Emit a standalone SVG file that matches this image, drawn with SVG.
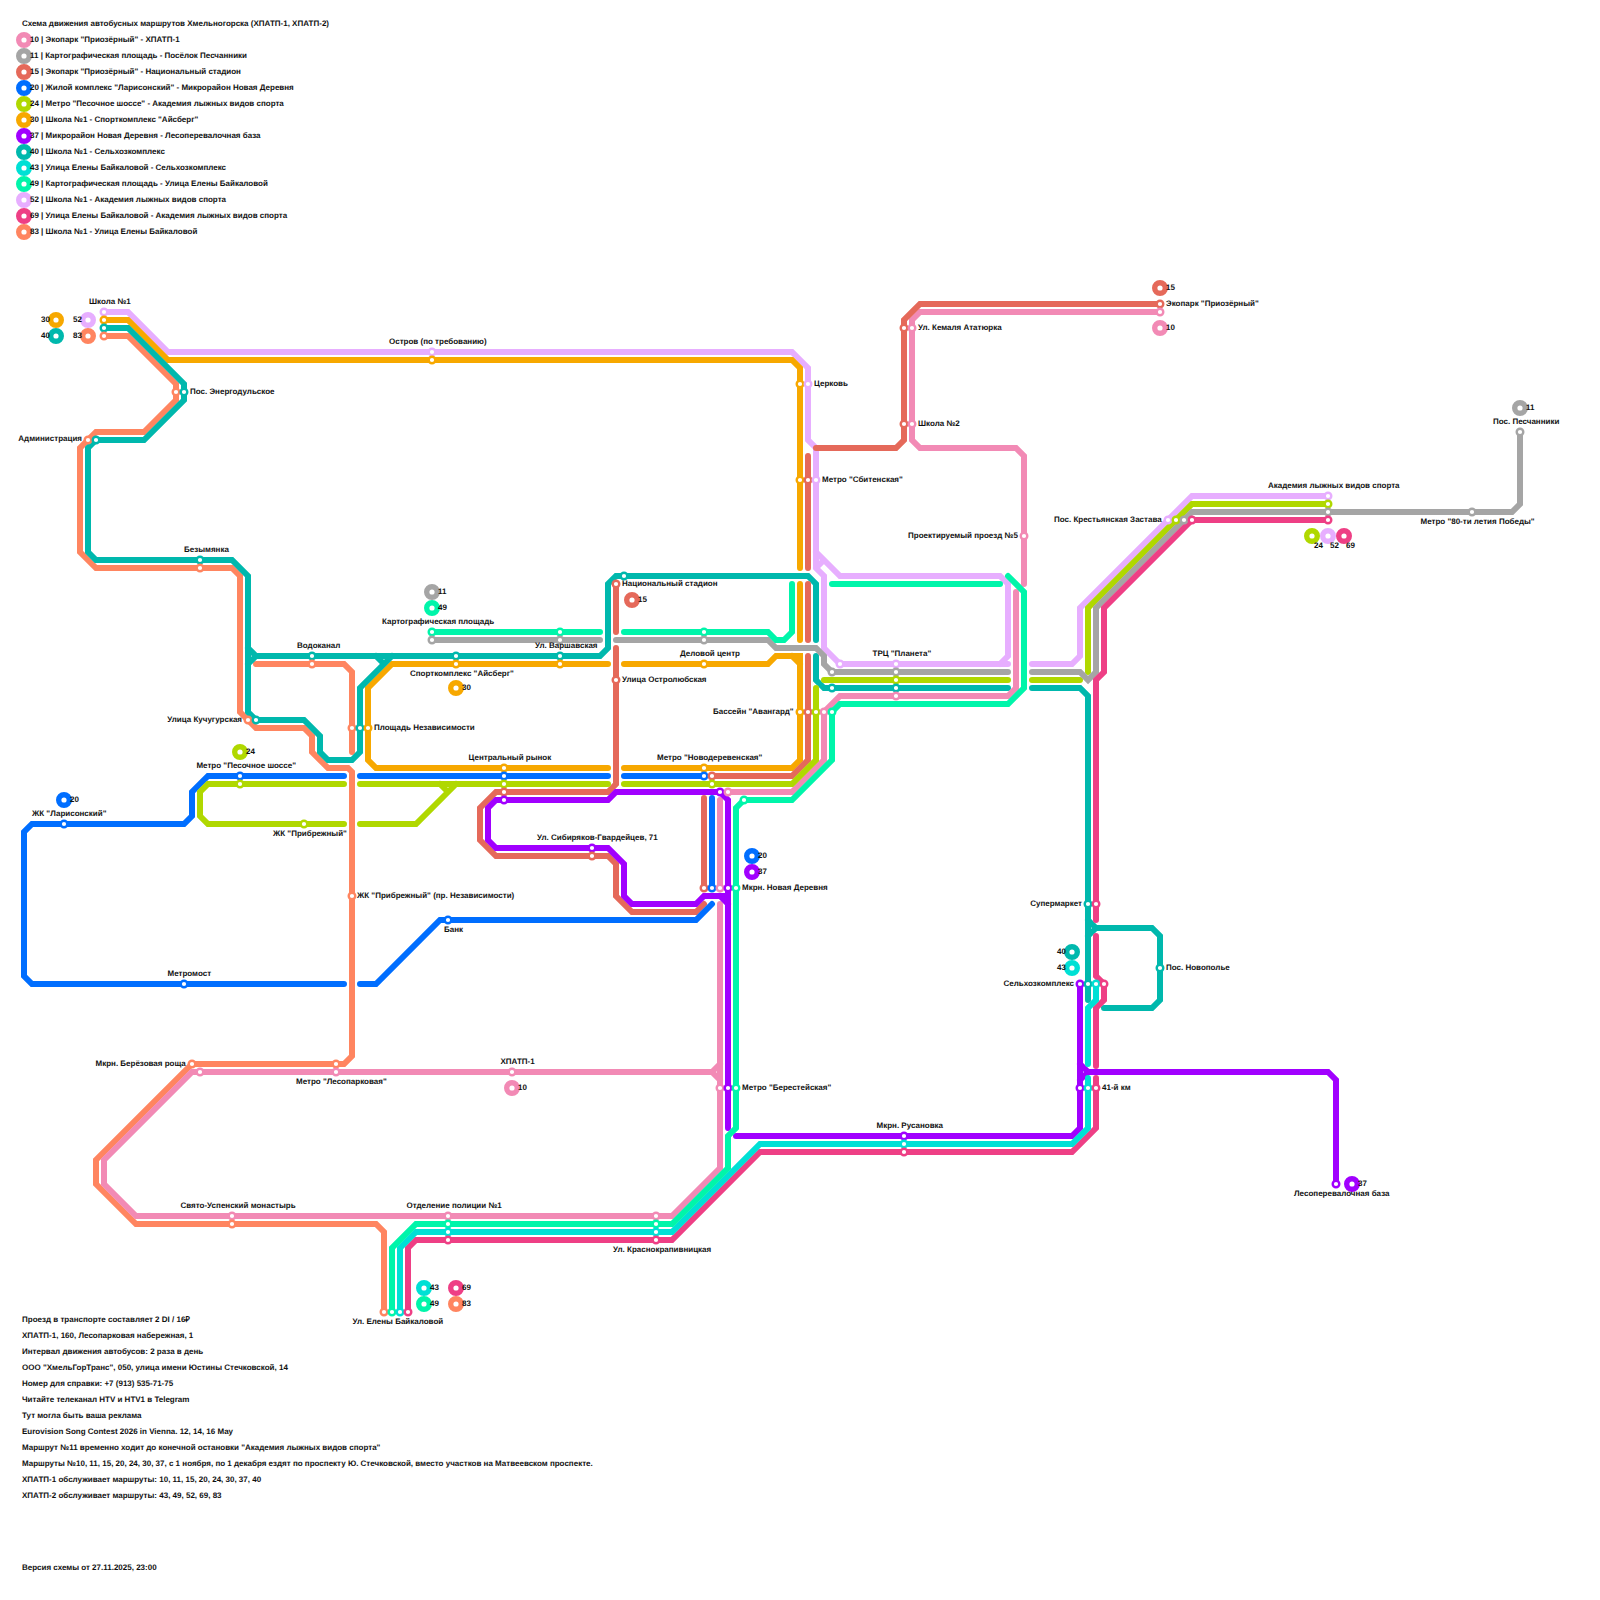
<svg xmlns="http://www.w3.org/2000/svg" width="1600" height="1600" viewBox="0 0 1600 1600">
<style>
text{font-family:"Liberation Sans",Arial,sans-serif;font-size:8px;font-weight:700;fill:#111;text-rendering:geometricPrecision}
.e{text-anchor:end}
.l{fill:none;stroke-width:6;stroke-linecap:round;stroke-linejoin:miter}
.s{r:3.3px;fill:#fff;stroke-width:2.4px}
.m{r:5.3px;fill:#fff;stroke-width:5.4px}
.c10{stroke:#f28ab5}.c11{stroke:#a5a5a5}.c15{stroke:#e5695a}.c20{stroke:#006eff}.c24{stroke:#b0d800}.c30{stroke:#f7a800}.c37{stroke:#a100ff}.c40{stroke:#00b8ad}.c43{stroke:#00e0d5}.c49{stroke:#00f5aa}.c52{stroke:#e7aeff}.c69{stroke:#ee3f85}.c83{stroke:#ff8560}
</style>
<g id="title"><text x="22" y="26">Схема движения автобусных маршрутов Хмельногорска (ХПАТП-1, ХПАТП-2)</text></g>
<g id="legend">
<g id="legend-10"><circle class="m c10" cx="24" cy="40"/><text x="30" y="42">10 | Экопарк "Приозёрный" - ХПАТП-1</text></g>
<g id="legend-11"><circle class="m c11" cx="24" cy="56"/><text x="30" y="58">11 | Картографическая площадь - Посёлок Песчанники</text></g>
<g id="legend-15"><circle class="m c15" cx="24" cy="72"/><text x="30" y="74">15 | Экопарк "Приозёрный" - Национальный стадион</text></g>
<g id="legend-20"><circle class="m c20" cx="24" cy="88"/><text x="30" y="90">20 | Жилой комплекс "Ларисонский" - Микрорайон Новая Деревня</text></g>
<g id="legend-24"><circle class="m c24" cx="24" cy="104"/><text x="30" y="106">24 | Метро "Песочное шоссе" - Академия лыжных видов спорта</text></g>
<g id="legend-30"><circle class="m c30" cx="24" cy="120"/><text x="30" y="122">30 | Школа №1 - Спорткомплекс "Айсберг"</text></g>
<g id="legend-37"><circle class="m c37" cx="24" cy="136"/><text x="30" y="138">37 | Микрорайон Новая Деревня - Лесоперевалочная база</text></g>
<g id="legend-40"><circle class="m c40" cx="24" cy="152"/><text x="30" y="154">40 | Школа №1 - Сельхозкомплекс</text></g>
<g id="legend-43"><circle class="m c43" cx="24" cy="168"/><text x="30" y="170">43 | Улица Елены Байкаловой - Сельхозкомплекс</text></g>
<g id="legend-49"><circle class="m c49" cx="24" cy="184"/><text x="30" y="186">49 | Картографическая площадь - Улица Елены Байкаловой</text></g>
<g id="legend-52"><circle class="m c52" cx="24" cy="200"/><text x="30" y="202">52 | Школа №1 - Академия лыжных видов спорта</text></g>
<g id="legend-69"><circle class="m c69" cx="24" cy="216"/><text x="30" y="218">69 | Улица Елены Байкаловой - Академия лыжных видов спорта</text></g>
<g id="legend-83"><circle class="m c83" cx="24" cy="232"/><text x="30" y="234">83 | Школа №1 - Улица Елены Байкаловой</text></g>
</g>
<g id="connectors">
<path id="r52" class="l c52" d="M104 312H128L168 352H792L808 368V440L816 448V568L824 576V648L840 664H1008M816 552L840 576H1000L1008 584V656L1000 664M816 568L824 560M1032 664H1072L1080 656V608L1192 496H1328"/>
<path id="r30" class="l c30" d="M104 320H128L168 360H792L800 368V568M800 584V640M608 664H392L368 688V760L376 768H608M624 664H768L776 656H800V760L792 768H624M792 656L800 664"/>
<path id="r83" class="l c83" d="M104 336H128L176 384V400L144 432H96L80 448V552L96 568H232L240 576V712L256 728H304L312 736V752L328 768H348L352 772V1056L344 1064H192L96 1160V1184L136 1224H376L384 1232V1312M256 664H344L352 672V752"/>
<path id="r40" class="l c40" d="M104 328H128L184 384V400L144 440H96L88 448V552L96 560H232L248 576V712L256 720H304L320 736V752L328 760H352L360 752V688L392 656M248 648L256 656H600L608 648V584L616 576H808L816 584V640M248 664L256 656M376 656L384 664M816 656V680L824 688H1008M1032 688H1080L1088 696V1000M1088 920L1096 928H1152L1160 936V1000L1152 1008H1104M1088 936L1096 928"/>
<path id="r10" class="l c10" d="M1160 312H920L912 320V440L920 448H1016L1024 456V584M1016 592V688L1008 696H840L824 712V760L792 792H728M720 800V888M720 904V1168L672 1216H136L104 1184V1160L192 1072H712M712 1072L720 1064M712 1072L720 1080"/>
<path id="r15" class="l c15" d="M1160 304H920L904 320V440L896 448H816M808 456V568M808 584V640M808 656V760L792 776H712M616 584V632M616 648V784L608 792H496L480 808V840L496 856H608L616 864V896L632 912H696L704 904M704 798V888"/>
<path id="r20" class="l c20" d="M344 776H208L192 792V816L184 824H32L24 832V976L32 984H344M360 984H376L440 920H696L712 904M360 776H608M624 776H704M712 798V888"/>
<path id="r24" class="l c24" d="M344 784H208L200 792V816L208 824H344M360 784H608M360 824H416L456 784M440 784L448 792M624 784H792L816 760V688M824 680H1008M1032 680H1080M1328 504H1192L1088 608V672"/>
<path id="r11" class="l c11" d="M432 640H600M616 640H768L776 648H816L824 656V664L832 672H1008M1032 672H1080L1088 680L1096 672V608L1192 512H1512L1520 504V432"/>
<path id="r37" class="l c37" d="M488 840L496 848H608L624 864V896L632 904H696L704 896H728M720 896L728 904M488 840V808L496 800H608L616 792H720L728 800V1128M736 1136H1072L1080 1128V984M1080 1064L1088 1072L1080 1080M1088 1072H1328L1336 1080V1184"/>
<path id="r69" class="l c69" d="M408 1312V1248L416 1240H672L760 1152H1072L1096 1128V1078M1096 1066V1008L1104 1000V984L1096 976V936M1096 920V680L1104 672V608L1192 520H1328"/>
<path id="r43" class="l c43" d="M400 1312V1248L416 1232H672L760 1144H1072L1088 1128V1078M1088 1064V1008L1096 1000V984"/>
<path id="r49" class="l c49" d="M392 1312V1248L416 1224H672L728 1168V1136L736 1128V808L744 800H792L832 760V712L840 704H1008L1024 688V592L1008 576M1000 584H832M792 584V632L784 640H776L768 632H624M600 632H432"/>
</g>
<g id="stops">
<g id="st-shkola1"><circle class="s c52" cx="104" cy="312"/><circle class="s c30" cx="104" cy="320"/><circle class="s c40" cx="104" cy="328"/><circle class="s c83" cx="104" cy="336"/><text x="89" y="304">Школа №1</text>
<circle class="m c30" cx="56" cy="320"/><circle class="m c40" cx="56" cy="336"/><circle class="m c52" cx="88" cy="320"/><circle class="m c83" cx="88" cy="336"/>
<text x="41" y="322">30</text><text x="41" y="338">40</text><text x="73" y="322">52</text><text x="73" y="338">83</text></g>
<g id="st-ostrov"><circle class="s c52" cx="432" cy="352"/><circle class="s c30" cx="432" cy="360"/><text x="389" y="344">Остров (по требованию)</text></g>
<g id="st-energo"><circle class="s c83" cx="176" cy="392"/><circle class="s c40" cx="184" cy="392"/><text x="190" y="394">Пос. Энергодульское</text></g>
<g id="st-admin"><circle class="s c83" cx="88" cy="440"/><circle class="s c40" cx="96" cy="440"/><text x="82" y="441" class="e">Администрация</text></g>
<g id="st-bezym"><circle class="s c40" cx="200" cy="560"/><circle class="s c83" cx="200" cy="568"/><text x="184" y="552">Безымянка</text></g>
<g id="st-vodokanal"><circle class="s c40" cx="312" cy="656"/><circle class="s c83" cx="312" cy="664"/><text x="297" y="648">Водоканал</text></g>
<g id="st-karto"><circle class="s c49" cx="432" cy="632"/><circle class="s c11" cx="432" cy="640"/><circle class="m c11" cx="432" cy="592"/><circle class="m c49" cx="432" cy="608"/><text x="438" y="594">11</text><text x="438" y="610">49</text><text x="382" y="624">Картографическая площадь</text></g>
<g id="st-varsh"><circle class="s c49" cx="560" cy="632"/><circle class="s c11" cx="560" cy="640"/><circle class="s c40" cx="560" cy="656"/><circle class="s c30" cx="560" cy="664"/><text x="535" y="648">Ул. Варшавская</text></g>
<g id="st-aisberg"><circle class="s c40" cx="456" cy="656"/><circle class="s c30" cx="456" cy="664"/><circle class="m c30" cx="456" cy="688"/><text x="462" y="690">30</text><text x="410" y="676">Спорткомплекс "Айсберг"</text></g>
<g id="st-kuchug"><circle class="s c83" cx="248" cy="720"/><circle class="s c40" cx="256" cy="720"/><text x="242" y="722" class="e">Улица Кучугурская</text></g>
<g id="st-nezav"><circle class="s c83" cx="352" cy="728"/><circle class="s c40" cx="360" cy="728"/><circle class="s c30" cx="368" cy="728"/><text x="374" y="730">Площадь Независимости</text></g>
<g id="st-pesoch"><circle class="s c20" cx="240" cy="776"/><circle class="s c24" cx="240" cy="784"/><circle class="m c24" cx="240" cy="752"/><text x="246" y="754">24</text><text x="296" y="768" class="e">Метро "Песочное шоссе"</text></g>
<g id="st-central"><circle class="s c30" cx="504" cy="768"/><circle class="s c20" cx="504" cy="776"/><circle class="s c24" cx="504" cy="784"/><circle class="s c15" cx="504" cy="792"/><circle class="s c37" cx="504" cy="800"/><text x="468.500" y="760">Центральный рынок</text></g>
<g id="st-pribr"><circle class="s c24" cx="304" cy="824"/><text x="273" y="836">ЖК "Прибрежный"</text></g>
<g id="st-laris"><circle class="s c20" cx="64" cy="824"/><circle class="m c20" cx="64" cy="800"/><text x="70" y="802">20</text><text x="32" y="816">ЖК "Ларисонский"</text></g>
<g id="st-sibir"><circle class="s c37" cx="592" cy="848"/><circle class="s c15" cx="592" cy="856"/><text x="537" y="840">Ул. Сибиряков-Гвардейцев, 71</text></g>
<g id="st-pribr2"><circle class="s c83" cx="352" cy="896"/><text x="357" y="898">ЖК "Прибрежный" (пр. Независимости)</text></g>
<g id="st-bank"><circle class="s c20" cx="448" cy="920"/><text x="444" y="932">Банк</text></g>
<g id="st-metromost"><circle class="s c20" cx="184" cy="984"/><text x="167.500" y="976">Метромост</text></g>
<g id="st-nacstad"><circle class="s c15" cx="616" cy="584"/><circle class="s c40" cx="624" cy="576"/><circle class="m c15" cx="632" cy="600"/><text x="638" y="602">15</text><text x="622" y="586">Национальный стадион</text></g>
<g id="st-delov"><circle class="s c49" cx="704" cy="632"/><circle class="s c11" cx="704" cy="640"/><circle class="s c30" cx="704" cy="664"/><text x="680" y="656">Деловой центр</text></g>
<g id="st-ostrol"><circle class="s c15" cx="616" cy="680"/><text x="622" y="682">Улица Остролюбская</text></g>
<g id="st-avangard"><circle class="s c30" cx="800" cy="712"/><circle class="s c15" cx="808" cy="712"/><circle class="s c24" cx="816" cy="712"/><circle class="s c10" cx="824" cy="712"/><circle class="s c49" cx="832" cy="712"/><text x="713" y="714">Бассейн "Авангард"</text></g>
<g id="st-novoder"><circle class="s c30" cx="704" cy="768"/><circle class="s c20" cx="704" cy="776"/><circle class="s c15" cx="712" cy="776"/><circle class="s c24" cx="712" cy="784"/><text x="657" y="760">Метро "Новодеревенская"</text></g>
<g id="st-row792"><circle class="s c37" cx="720" cy="792"/><circle class="s c10" cx="728" cy="792"/><circle class="s c49" cx="744" cy="800"/></g>
<g id="st-novder"><circle class="s c15" cx="704" cy="888"/><circle class="s c20" cx="712" cy="888"/><circle class="s c10" cx="720" cy="888"/><circle class="s c37" cx="728" cy="888"/><circle class="s c49" cx="736" cy="888"/><circle class="m c20" cx="752" cy="856"/><circle class="m c37" cx="752" cy="872"/><text x="758" y="858">20</text><text x="758" y="874">37</text><text x="742" y="890">Мкрн. Новая Деревня</text></g>
<g id="st-berest"><circle class="s c10" cx="720" cy="1088"/><circle class="s c37" cx="728" cy="1088"/><circle class="s c49" cx="736" cy="1088"/><text x="742" y="1090">Метро "Берестейская"</text></g>
<g id="st-xpatp"><circle class="s c10" cx="512" cy="1072"/><circle class="m c10" cx="512" cy="1088"/><text x="518" y="1090">10</text><text x="500.500" y="1064">ХПАТП-1</text></g>
<g id="st-berez"><circle class="s c83" cx="192" cy="1064"/><circle class="s c10" cx="200" cy="1072"/><text x="95.500" y="1066">Мкрн. Берёзовая роща</text></g>
<g id="st-lesopark"><circle class="s c83" cx="336" cy="1064"/><circle class="s c10" cx="336" cy="1072"/><text x="296" y="1084">Метро "Лесопарковая"</text></g>
<g id="st-svyato"><circle class="s c10" cx="232" cy="1216"/><circle class="s c83" cx="232" cy="1224"/><text x="180.500" y="1208">Свято-Успенский монастырь</text></g>
<g id="st-police"><circle class="s c10" cx="448" cy="1216"/><circle class="s c49" cx="448" cy="1224"/><circle class="s c43" cx="448" cy="1232"/><circle class="s c69" cx="448" cy="1240"/><text x="406.500" y="1208">Отделение полиции №1</text></g>
<g id="st-krasno"><circle class="s c10" cx="656" cy="1216"/><circle class="s c49" cx="656" cy="1224"/><circle class="s c43" cx="656" cy="1232"/><circle class="s c69" cx="656" cy="1240"/><text x="613" y="1252">Ул. Краснокрапивницкая</text></g>
<g id="st-baikal"><circle class="s c83" cx="384" cy="1312"/><circle class="s c49" cx="392" cy="1312"/><circle class="s c43" cx="400" cy="1312"/><circle class="s c69" cx="408" cy="1312"/><circle class="m c43" cx="424" cy="1288"/><circle class="m c49" cx="424" cy="1304"/><circle class="m c69" cx="456" cy="1288"/><circle class="m c83" cx="456" cy="1304"/><text x="430" y="1290">43</text><text x="430" y="1306">49</text><text x="462" y="1290">69</text><text x="462" y="1306">83</text><text x="352.500" y="1324">Ул. Елены Байкаловой</text></g>
<g id="st-ekopark"><circle class="s c15" cx="1160" cy="304"/><circle class="s c10" cx="1160" cy="312"/><circle class="m c15" cx="1160" cy="288"/><circle class="m c10" cx="1160" cy="328"/><text x="1166" y="290">15</text><text x="1166" y="330">10</text><text x="1166" y="306">Экопарк "Приозёрный"</text></g>
<g id="st-kemal"><circle class="s c15" cx="904" cy="328"/><circle class="s c10" cx="912" cy="328"/><text x="918" y="330">Ул. Кемаля Ататюрка</text></g>
<g id="st-shkola2"><circle class="s c15" cx="904" cy="424"/><circle class="s c10" cx="912" cy="424"/><text x="918" y="426">Школа №2</text></g>
<g id="st-cerkov"><circle class="s c30" cx="800" cy="384"/><circle class="s c52" cx="808" cy="384"/><text x="814" y="386">Церковь</text></g>
<g id="st-sbiten"><circle class="s c30" cx="800" cy="480"/><circle class="s c15" cx="808" cy="480"/><circle class="s c52" cx="816" cy="480"/><text x="822" y="482">Метро "Сбитенская"</text></g>
<g id="st-proekt"><circle class="s c10" cx="1024" cy="536"/><text x="908" y="538">Проектируемый проезд №5</text></g>
<g id="st-planeta"><circle class="s c52" cx="840" cy="664"/><circle class="s c11" cx="832" cy="672"/><circle class="s c40" cx="832" cy="688"/><circle class="s c52" cx="896" cy="664"/><circle class="s c11" cx="896" cy="672"/><circle class="s c24" cx="896" cy="680"/><circle class="s c40" cx="896" cy="688"/><circle class="s c10" cx="896" cy="696"/><text x="872.500" y="656">ТРЦ "Планета"</text></g>
<g id="st-krest"><circle class="s c52" cx="1168" cy="520"/><circle class="s c24" cx="1176" cy="520"/><circle class="s c11" cx="1184" cy="520"/><circle class="s c69" cx="1192" cy="520"/><text x="1054" y="522">Пос. Крестьянская Застава</text></g>
<g id="st-akad"><circle class="s c52" cx="1328" cy="496"/><circle class="s c24" cx="1328" cy="504"/><circle class="s c11" cx="1328" cy="512"/><circle class="s c69" cx="1328" cy="520"/><circle class="m c24" cx="1312" cy="536"/><circle class="m c52" cx="1328" cy="536"/><circle class="m c69" cx="1344" cy="536"/><text x="1314" y="548">24</text><text x="1330" y="548">52</text><text x="1346" y="548">69</text><text x="1268" y="488">Академия лыжных видов спорта</text></g>
<g id="st-80let"><circle class="s c11" cx="1472" cy="512"/><text x="1420.500" y="524">Метро "80-ти летия Победы"</text></g>
<g id="st-peschan"><circle class="s c11" cx="1520" cy="432"/><circle class="m c11" cx="1520" cy="408"/><text x="1526" y="410">11</text><text x="1493" y="424">Пос. Песчанники</text></g>
<g id="st-super"><circle class="s c40" cx="1088" cy="904"/><circle class="s c69" cx="1096" cy="904"/><text x="1082" y="906" class="e">Супермаркет</text></g>
<g id="st-selhoz"><circle class="s c37" cx="1080" cy="984"/><circle class="s c40" cx="1088" cy="984"/><circle class="s c43" cx="1096" cy="984"/><circle class="s c69" cx="1104" cy="984"/><circle class="m c40" cx="1072" cy="952"/><circle class="m c43" cx="1072" cy="968"/><text x="1057" y="954">40</text><text x="1057" y="970">43</text><text x="1074" y="986" class="e">Сельхозкомплекс</text></g>
<g id="st-novopol"><circle class="s c40" cx="1160" cy="968"/><text x="1166" y="970">Пос. Новополье</text></g>
<g id="st-41km"><circle class="s c37" cx="1080" cy="1088"/><circle class="s c43" cx="1088" cy="1088"/><circle class="s c69" cx="1096" cy="1088"/><text x="1102" y="1090">41-й км</text></g>
<g id="st-rusan"><circle class="s c37" cx="904" cy="1136"/><circle class="s c43" cx="904" cy="1144"/><circle class="s c69" cx="904" cy="1152"/><text x="876.500" y="1128">Мкрн. Русановка</text></g>
<g id="st-lesoper"><circle class="s c37" cx="1336" cy="1184"/><circle class="m c37" cx="1352" cy="1184"/><text x="1358" y="1186">37</text><text x="1294" y="1196">Лесоперевалочная база</text></g>
</g>
<g id="notes">
<text x="22" y="1322">Проезд в транспорте составляет 2 DI / 16₽</text>
<text x="22" y="1338">ХПАТП-1, 160, Лесопарковая набережная, 1</text>
<text x="22" y="1354">Интервал движения автобусов: 2 раза в день</text>
<text x="22" y="1370">ООО "ХмельГорТранс", 050, улица имени Юстины Стечковской, 14</text>
<text x="22" y="1386">Номер для справки: +7 (913) 535-71-75</text>
<text x="22" y="1402">Читайте телеканал HTV и HTV1 в Telegram</text>
<text x="22" y="1418">Тут могла быть ваша реклама</text>
<text x="22" y="1434">Eurovision Song Contest 2026 in Vienna. 12, 14, 16 May</text>
<text x="22" y="1450">Маршрут №11 временно ходит до конечной остановки "Академия лыжных видов спорта"</text>
<text x="22" y="1466">Маршруты №10, 11, 15, 20, 24, 30, 37, с 1 ноября, по 1 декабря ездят по проспекту Ю. Стечковской, вместо участков на Матвеевском проспекте.</text>
<text x="22" y="1482">ХПАТП-1 обслуживает маршруты: 10, 11, 15, 20, 24, 30, 37, 40</text>
<text x="22" y="1498">ХПАТП-2 обслуживает маршруты: 43, 49, 52, 69, 83</text>
<text x="22" y="1570">Версия схемы от 27.11.2025, 23:00</text>
</g>
</svg>
